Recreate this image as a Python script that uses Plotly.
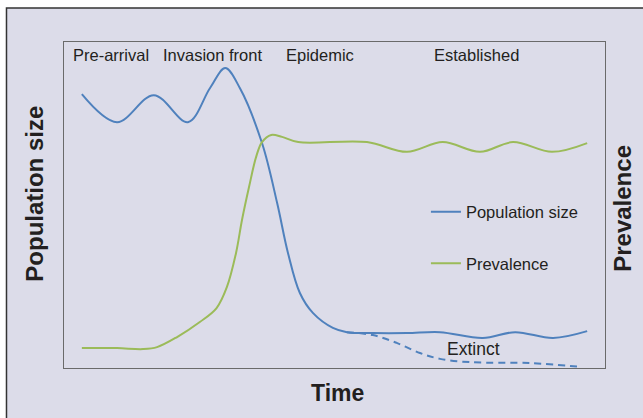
import plotly.graph_objects as go

# Time axis (0-100, arbitrary units)
pop_time = [3.3, 9.8, 16.6, 22.9, 27.0, 29.8, 32.5, 36.6, 39.4, 41.4, 43.6,
            46.0, 49.7, 52.3, 57.1, 63.4, 69.5, 77.4, 83.4, 90.4, 96.7]
pop_size = [84.0, 75.4, 83.7, 75.4, 85.9, 92.0, 85.9, 69.0, 50.6, 35.3, 23.0,
            16.9, 12.3, 11.0, 10.7, 10.7, 11.0, 9.2, 11.0, 9.2, 11.3]

ext_time = [52.3, 57.1, 61.5, 65.8, 69.5, 75.0, 86.1, 95.7]
ext_size = [11.0, 10.1, 7.7, 4.6, 2.8, 1.8, 1.5, 0.3]

prev_time = [3.3, 9.8, 14.6, 17.2, 20.9, 25.1, 28.2, 30.1, 31.8, 32.9, 34.2, 35.5,
             36.6, 38.3, 40.3, 43.3, 56.0, 63.4, 70.0, 76.9, 83.0, 90.2, 96.7]
prevalence = [6.1, 6.1, 5.8, 6.4, 9.5, 14.1, 18.4, 24.8, 35.3, 45.4, 55.5, 64.7,
              69.3, 71.5, 70.9, 69.3, 69.3, 66.3, 69.3, 66.3, 69.3, 66.3, 69.0]

phase_labels = ["Pre-arrival", "Invasion front", "Epidemic", "Established"]
phase_pos = [8.7, 27.4, 47.3, 76.3]

BLUE = "#4f81bd"
GREEN = "#9bbb59"
TEXT = "#231f20"
PANEL = "#dcdce9"
FONT = "Liberation Sans, Arial, Helvetica, sans-serif"

fig = go.Figure()
fig.add_trace(go.Scatter(x=pop_time, y=pop_size, mode="lines", name="Population size",
                         legendgroup="a",
                         line=dict(color=BLUE, width=2, shape="spline", smoothing=1.0)))
fig.add_trace(go.Scatter(x=prev_time, y=prevalence, mode="lines", name="Prevalence",
                         legendgroup="b",
                         line=dict(color=GREEN, width=2, shape="spline", smoothing=1.0)))
fig.add_trace(go.Scatter(x=ext_time, y=ext_size, mode="lines", name="Extinct",
                         showlegend=False,
                         line=dict(color=BLUE, width=2, dash="7px,5px", shape="spline", smoothing=1.0)))

annotations = []
for lab, xp in zip(phase_labels, phase_pos):
    annotations.append(dict(x=xp, y=0.960, xref="x", yref="paper", text=lab, showarrow=False,
                            xanchor="center", yanchor="middle",
                            font=dict(size=16.5, color=TEXT, family=FONT)))
annotations.append(dict(x=75.6, y=5.8, xref="x", yref="y", text="Extinct", showarrow=False,
                        xanchor="center", yanchor="middle",
                        font=dict(size=17.5, color=TEXT, family=FONT)))
annotations.append(dict(x=0.506, y=-0.077, xref="paper", yref="paper", text="<b>Time</b>",
                        showarrow=False, xanchor="center", yanchor="middle",
                        font=dict(size=23, color=TEXT, family=FONT)))
annotations.append(dict(x=-0.054, y=0.534, xref="paper", yref="paper", text="<b>Population size</b>",
                        showarrow=False, textangle=-90, xanchor="center", yanchor="middle",
                        font=dict(size=24, color=TEXT, family=FONT)))
annotations.append(dict(x=1.033, y=0.491, xref="paper", yref="paper", text="<b>Prevalence</b>",
                        showarrow=False, textangle=-90, xanchor="center", yanchor="middle",
                        font=dict(size=24, color=TEXT, family=FONT)))

fig.update_layout(
    width=643, height=418,
    margin=dict(l=64, r=38, t=42, b=50),
    paper_bgcolor="#ffffff",
    plot_bgcolor="#ffffff",
    showlegend=True,
    legend=dict(x=0.669, y=0.532, xanchor="left", yanchor="top", bgcolor="rgba(0,0,0,0)",
                traceorder="grouped", tracegroupgap=27, itemwidth=30,
                font=dict(size=16.5, color=TEXT, family=FONT)),
    annotations=annotations,
    shapes=[dict(type="rect", xref="paper", yref="paper", x0=-0.1063, x1=1.3, y0=-0.5, y1=1.104,
                 fillcolor=PANEL, line=dict(color="#333333", width=1.5), layer="below")],
    xaxis=dict(range=[0, 100], showgrid=False, zeroline=False, showticklabels=False, ticks="",
               showline=True, mirror=True, linecolor="#6a6a6a", linewidth=1.2),
    yaxis=dict(range=[0, 100], showgrid=False, zeroline=False, showticklabels=False, ticks="",
               showline=True, mirror=True, linecolor="#6a6a6a", linewidth=1.2),
)

# remove the page's default body margin so the figure fills the window
fig.write_html("out.html", config={"displayModeBar": False},
               post_script="document.body.style.margin='0';document.body.style.overflow='hidden';")
